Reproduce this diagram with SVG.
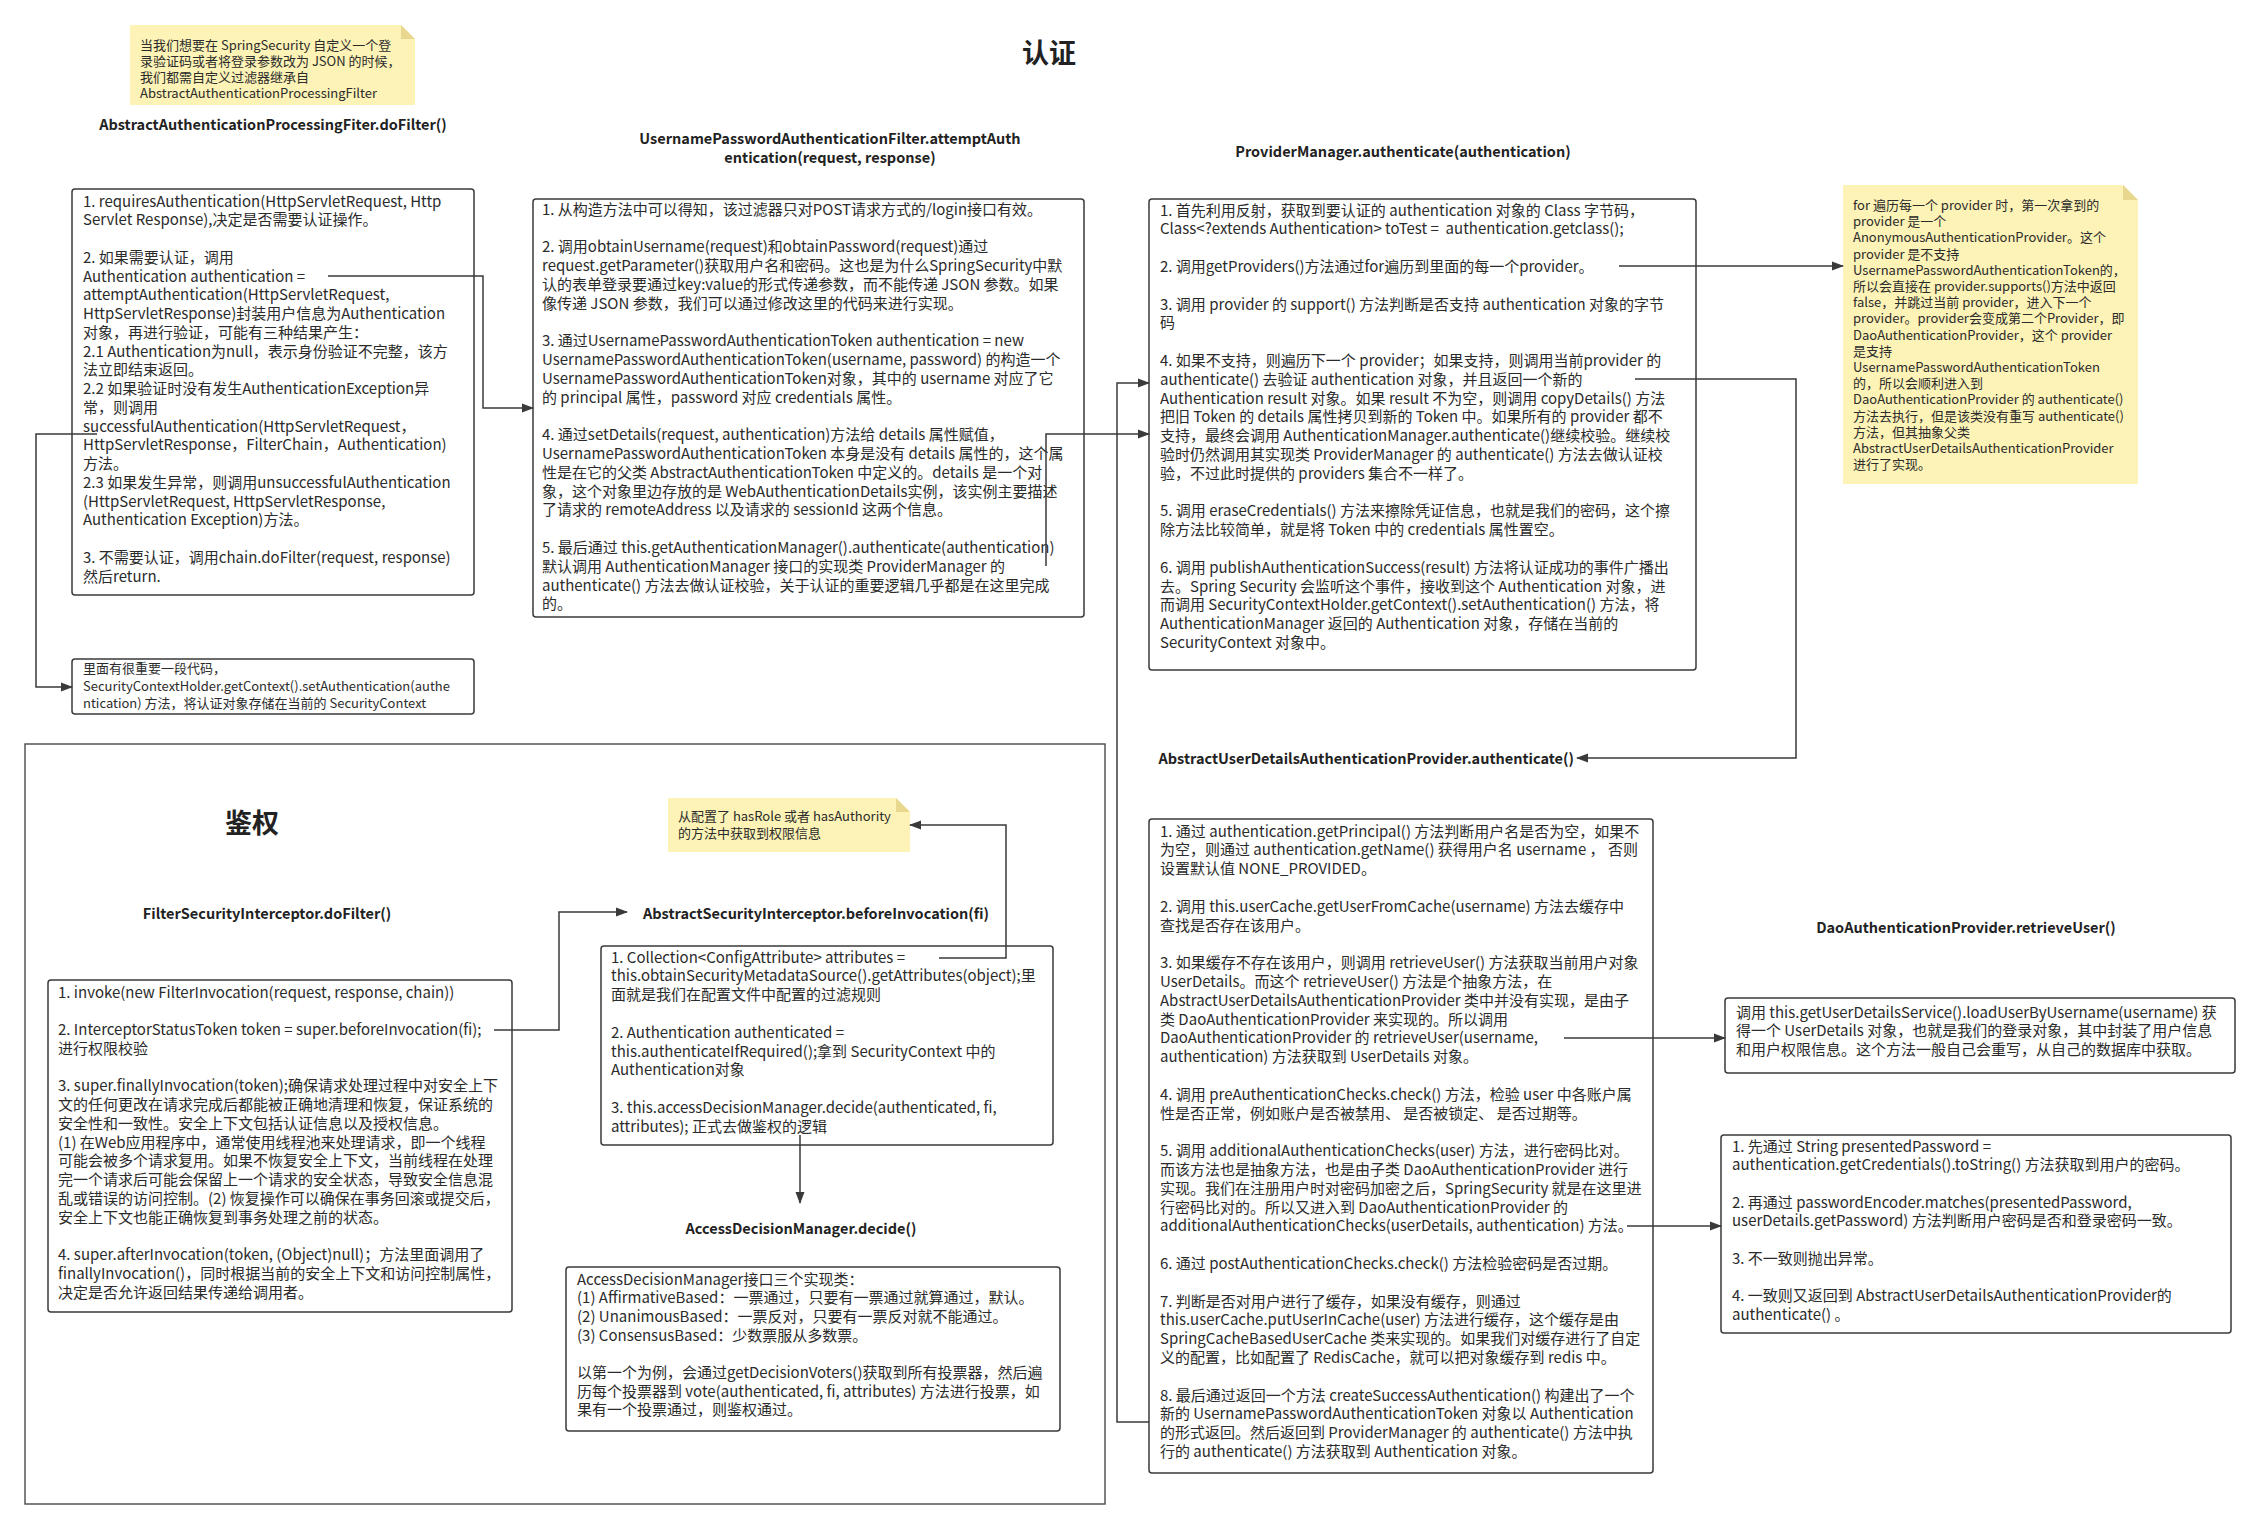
<svg xmlns="http://www.w3.org/2000/svg" width="2260" height="1527" viewBox="0 0 2260 1527">
<style>
.box{fill:#fff;stroke:#3a3a3a;stroke-width:1.5}
.frame{fill:none;stroke:#555;stroke-width:1.5}
.t{font-family:"Noto Sans CJK SC","Noto Sans",sans-serif;font-size:15px;fill:#2b2b2b}
.s{font-size:13px}
.h{font-family:"Noto Sans CJK SC","Noto Sans",sans-serif;font-size:14.5px;font-weight:700;fill:#222}
.big{font-family:"Noto Sans CJK SC","Noto Sans",sans-serif;font-size:27px;font-weight:700;fill:#222}
.note{fill:#fdf3b6}
.fold{fill:#e8d78e}
.conn{fill:none;stroke:#3a3a3a;stroke-width:1.5;marker-end:url(#arr)}
</style>
<defs>
<marker id="arr" viewBox="0 0 12 10" refX="11" refY="5" markerWidth="12" markerHeight="10" markerUnits="userSpaceOnUse" orient="auto">
<path d="M0,0.5 L12,5 L0,9.5 Z" fill="#3a3a3a"/>
</marker>
</defs>
<rect width="2260" height="1527" fill="#fff"/>

<g id="title-auth"><text class="big" x="1049" y="63" text-anchor="middle">认证</text></g>

<g id="note1">
<polygon class="note" points="130,25 401,25 415,39 415,105 130,105"/>
<polygon class="fold" points="401,25 415,39 401,39"/>
<text class="t s">
<tspan x="140" y="50">当我们想要在 SpringSecurity 自定义一个登</tspan>
<tspan x="140" y="66">录验证码或者将登录参数改为 JSON 的时候，</tspan>
<tspan x="140" y="82">我们都需自定义过滤器继承自</tspan>
<tspan x="140" y="98">AbstractAuthenticationProcessingFilter</tspan>
</text>
</g>

<g id="box1">
<text class="h" x="273" y="130" text-anchor="middle">AbstractAuthenticationProcessingFiter.doFilter()</text>
<rect class="box" x="72" y="189" width="402" height="406" rx="3"/>
<text class="t">
<tspan x="83" y="206.5">1. requiresAuthentication(HttpServletRequest, Http</tspan>
<tspan x="83" y="225.3">Servlet Response),决定是否需要认证操作。</tspan>
<tspan x="83" y="262.8">2. 如果需要认证，调用</tspan>
<tspan x="83" y="281.5">Authentication authentication =</tspan>
<tspan x="83" y="300.3">attemptAuthentication(HttpServletRequest,</tspan>
<tspan x="83" y="319">HttpServletResponse)封装用户信息为Authentication</tspan>
<tspan x="83" y="337.8">对象，再进行验证，可能有三种结果产生：</tspan>
<tspan x="83" y="356.5">2.1 Authentication为null，表示身份验证不完整，该方</tspan>
<tspan x="83" y="375.3">法立即结束返回。</tspan>
<tspan x="83" y="394">2.2 如果验证时没有发生AuthenticationException异</tspan>
<tspan x="83" y="412.8">常，则调用</tspan>
<tspan x="83" y="431.5">successfulAuthentication(HttpServletRequest，</tspan>
<tspan x="83" y="450.3">HttpServletResponse，FilterChain，Authentication)</tspan>
<tspan x="83" y="469">方法。</tspan>
<tspan x="83" y="487.8">2.3 如果发生异常，则调用unsuccessfulAuthentication</tspan>
<tspan x="83" y="506.5">(HttpServletRequest, HttpServletResponse,</tspan>
<tspan x="83" y="525.3">Authentication Exception)方法。</tspan>
<tspan x="83" y="562.8">3. 不需要认证，调用chain.doFilter(request, response)</tspan>
<tspan x="83" y="581.5">然后return.</tspan>
</text>
</g>

<g id="box1b">
<rect class="box" x="72" y="659" width="402" height="55" rx="3"/>
<text class="t s">
<tspan x="83" y="673">里面有很重要一段代码，</tspan>
<tspan x="83" y="690.5">SecurityContextHolder.getContext().setAuthentication(authe</tspan>
<tspan x="83" y="708">ntication) 方法，将认证对象存储在当前的 SecurityContext</tspan>
</text>
</g>

<g id="box2">
<text class="h" text-anchor="middle"><tspan x="830" y="143.5">UsernamePasswordAuthenticationFilter.attemptAuth</tspan><tspan x="830" y="162.5">entication(request, response)</tspan></text>
<rect class="box" x="533" y="199" width="551" height="418" rx="3"/>
<text class="t">
<tspan x="542" y="214.5">1. 从构造方法中可以得知，该过滤器只对POST请求方式的/login接口有效。</tspan>
<tspan x="542" y="252.1">2. 调用obtainUsername(request)和obtainPassword(request)通过</tspan>
<tspan x="542" y="270.9">request.getParameter()获取用户名和密码。这也是为什么SpringSecurity中默</tspan>
<tspan x="542" y="289.7">认的表单登录要通过key:value的形式传递参数，而不能传递 JSON 参数。如果</tspan>
<tspan x="542" y="308.5">像传递 JSON 参数，我们可以通过修改这里的代码来进行实现。</tspan>
<tspan x="542" y="346.1">3. 通过UsernamePasswordAuthenticationToken authentication = new</tspan>
<tspan x="542" y="364.9">UsernamePasswordAuthenticationToken(username, password) 的构造一个</tspan>
<tspan x="542" y="383.7">UsernamePasswordAuthenticationToken对象，其中的 username 对应了它</tspan>
<tspan x="542" y="402.5">的 principal 属性，password 对应 credentials 属性。</tspan>
<tspan x="542" y="440.1">4. 通过setDetails(request, authentication)方法给 details 属性赋值，</tspan>
<tspan x="542" y="458.9">UsernamePasswordAuthenticationToken 本身是没有 details 属性的，这个属</tspan>
<tspan x="542" y="477.7">性是在它的父类 AbstractAuthenticationToken 中定义的。details 是一个对</tspan>
<tspan x="542" y="496.5">象，这个对象里边存放的是 WebAuthenticationDetails实例，该实例主要描述</tspan>
<tspan x="542" y="515.3">了请求的 remoteAddress 以及请求的 sessionId 这两个信息。</tspan>
<tspan x="542" y="552.9">5. 最后通过 this.getAuthenticationManager().authenticate(authentication)</tspan>
<tspan x="542" y="571.7">默认调用 AuthenticationManager 接口的实现类 ProviderManager 的</tspan>
<tspan x="542" y="590.5">authenticate() 方法去做认证校验，关于认证的重要逻辑几乎都是在这里完成</tspan>
<tspan x="542" y="609.3">的。</tspan>
</text>
</g>

<g id="box3">
<text class="h" x="1403" y="156.5" text-anchor="middle">ProviderManager.authenticate(authentication)</text>
<rect class="box" x="1149" y="199" width="547" height="471" rx="3"/>
<text class="t">
<tspan x="1160" y="215.5">1. 首先利用反射，获取到要认证的 authentication 对象的 Class 字节码，</tspan>
<tspan x="1160" y="234.3">Class&lt;?extends Authentication&gt; toTest = &#160;authentication.getclass();</tspan>
<tspan x="1160" y="271.9">2. 调用getProviders()方法通过for遍历到里面的每一个provider。</tspan>
<tspan x="1160" y="309.5">3. 调用 provider 的 support() 方法判断是否支持 authentication 对象的字节</tspan>
<tspan x="1160" y="328.3">码</tspan>
<tspan x="1160" y="365.9">4. 如果不支持，则遍历下一个 provider；如果支持，则调用当前provider 的</tspan>
<tspan x="1160" y="384.7">authenticate() 去验证 authentication 对象，并且返回一个新的</tspan>
<tspan x="1160" y="403.5">Authentication result 对象。如果 result 不为空，则调用 copyDetails() 方法</tspan>
<tspan x="1160" y="422.3">把旧 Token 的 details 属性拷贝到新的 Token 中。如果所有的 provider 都不</tspan>
<tspan x="1160" y="441.1">支持，最终会调用 AuthenticationManager.authenticate()继续校验。继续校</tspan>
<tspan x="1160" y="459.9">验时仍然调用其实现类 ProviderManager 的 authenticate() 方法去做认证校</tspan>
<tspan x="1160" y="478.7">验，不过此时提供的 providers 集合不一样了。</tspan>
<tspan x="1160" y="516.3">5. 调用 eraseCredentials() 方法来擦除凭证信息，也就是我们的密码，这个擦</tspan>
<tspan x="1160" y="535.1">除方法比较简单，就是将 Token 中的 credentials 属性置空。</tspan>
<tspan x="1160" y="572.7">6. 调用 publishAuthenticationSuccess(result) 方法将认证成功的事件广播出</tspan>
<tspan x="1160" y="591.5">去。Spring Security 会监听这个事件，接收到这个 Authentication 对象，进</tspan>
<tspan x="1160" y="610.3">而调用 SecurityContextHolder.getContext().setAuthentication() 方法，将</tspan>
<tspan x="1160" y="629.1">AuthenticationManager 返回的 Authentication 对象，存储在当前的</tspan>
<tspan x="1160" y="647.9">SecurityContext 对象中。</tspan>
</text>
</g>

<g id="note2">
<polygon class="note" points="1843,185 2123,185 2138,200 2138,484 1843,484"/>
<polygon class="fold" points="2123,185 2138,200 2123,200"/>
<text class="t s">
<tspan x="1853" y="210">for 遍历每一个 provider 时，第一次拿到的</tspan>
<tspan x="1853" y="226.2">provider 是一个</tspan>
<tspan x="1853" y="242.4">AnonymousAuthenticationProvider。这个</tspan>
<tspan x="1853" y="258.6">provider 是不支持</tspan>
<tspan x="1853" y="274.8">UsernamePasswordAuthenticationToken的，</tspan>
<tspan x="1853" y="291">所以会直接在 provider.supports()方法中返回</tspan>
<tspan x="1853" y="307.2">false，并跳过当前 provider，进入下一个</tspan>
<tspan x="1853" y="323.4">provider。provider会变成第二个Provider，即</tspan>
<tspan x="1853" y="339.6">DaoAuthenticationProvider，这个 provider</tspan>
<tspan x="1853" y="355.8">是支持</tspan>
<tspan x="1853" y="372">UsernamePasswordAuthenticationToken</tspan>
<tspan x="1853" y="388.2">的，所以会顺利进入到</tspan>
<tspan x="1853" y="404.4">DaoAuthenticationProvider 的 authenticate()</tspan>
<tspan x="1853" y="420.6">方法去执行，但是该类没有重写 authenticate()</tspan>
<tspan x="1853" y="436.8">方法，但其抽象父类</tspan>
<tspan x="1853" y="453">AbstractUserDetailsAuthenticationProvider</tspan>
<tspan x="1853" y="469.2">进行了实现。</tspan>
</text>
</g>

<g id="box4">
<text class="h" x="1574" y="763.5" text-anchor="end">AbstractUserDetailsAuthenticationProvider.authenticate()</text>
<rect class="box" x="1149" y="819" width="504" height="654" rx="3"/>
<text class="t">
<tspan x="1160" y="836.5">1. 通过 authentication.getPrincipal() 方法判断用户名是否为空，如果不</tspan>
<tspan x="1160" y="855.3">为空，则通过 authentication.getName() 获得用户名 username ， 否则</tspan>
<tspan x="1160" y="874.1">设置默认值 NONE_PROVIDED。</tspan>
<tspan x="1160" y="911.7">2. 调用 this.userCache.getUserFromCache(username) 方法去缓存中</tspan>
<tspan x="1160" y="930.5">查找是否存在该用户。</tspan>
<tspan x="1160" y="968.1">3. 如果缓存不存在该用户，则调用 retrieveUser() 方法获取当前用户对象</tspan>
<tspan x="1160" y="986.9">UserDetails。而这个 retrieveUser() 方法是个抽象方法，在</tspan>
<tspan x="1160" y="1005.7">AbstractUserDetailsAuthenticationProvider 类中并没有实现，是由子</tspan>
<tspan x="1160" y="1024.5">类 DaoAuthenticationProvider 来实现的。所以调用</tspan>
<tspan x="1160" y="1043.3">DaoAuthenticationProvider 的 retrieveUser(username,</tspan>
<tspan x="1160" y="1062.1">authentication) 方法获取到 UserDetails 对象。</tspan>
<tspan x="1160" y="1099.7">4. 调用 preAuthenticationChecks.check() 方法，检验 user 中各账户属</tspan>
<tspan x="1160" y="1118.5">性是否正常，例如账户是否被禁用、 是否被锁定、 是否过期等。</tspan>
<tspan x="1160" y="1156.1">5. 调用 additionalAuthenticationChecks(user) 方法，进行密码比对。</tspan>
<tspan x="1160" y="1174.9">而该方法也是抽象方法，也是由子类 DaoAuthenticationProvider 进行</tspan>
<tspan x="1160" y="1193.7">实现。我们在注册用户时对密码加密之后，SpringSecurity 就是在这里进</tspan>
<tspan x="1160" y="1212.5">行密码比对的。所以又进入到 DaoAuthenticationProvider 的</tspan>
<tspan x="1160" y="1231.3">additionalAuthenticationChecks(userDetails, authentication) 方法。</tspan>
<tspan x="1160" y="1268.9">6. 通过 postAuthenticationChecks.check() 方法检验密码是否过期。</tspan>
<tspan x="1160" y="1306.5">7. 判断是否对用户进行了缓存，如果没有缓存，则通过</tspan>
<tspan x="1160" y="1325.3">this.userCache.putUserInCache(user) 方法进行缓存，这个缓存是由</tspan>
<tspan x="1160" y="1344.1">SpringCacheBasedUserCache 类来实现的。如果我们对缓存进行了自定</tspan>
<tspan x="1160" y="1362.9">义的配置，比如配置了 RedisCache，就可以把对象缓存到 redis 中。</tspan>
<tspan x="1160" y="1400.5">8. 最后通过返回一个方法 createSuccessAuthentication() 构建出了一个</tspan>
<tspan x="1160" y="1419.3">新的 UsernamePasswordAuthenticationToken 对象以 Authentication</tspan>
<tspan x="1160" y="1438.1">的形式返回。然后返回到 ProviderManager 的 authenticate() 方法中执</tspan>
<tspan x="1160" y="1456.9">行的 authenticate() 方法获取到 Authentication 对象。</tspan>
</text>
</g>

<g id="box5">
<text class="h" x="1966" y="932.5" text-anchor="middle">DaoAuthenticationProvider.retrieveUser()</text>
<rect class="box" x="1725" y="998" width="510" height="75" rx="3"/>
<text class="t">
<tspan x="1736" y="1017.5">调用 this.getUserDetailsService().loadUserByUsername(username) 获</tspan>
<tspan x="1736" y="1036.3">得一个 UserDetails 对象，也就是我们的登录对象，其中封装了用户信息</tspan>
<tspan x="1736" y="1055.1">和用户权限信息。这个方法一般自己会重写，从自己的数据库中获取。</tspan>
</text>
</g>

<g id="box6">
<rect class="box" x="1721" y="1135" width="510" height="198" rx="3"/>
<text class="t">
<tspan x="1732" y="1151.5">1. 先通过 String presentedPassword =</tspan>
<tspan x="1732" y="1170.2">authentication.getCredentials().toString() 方法获取到用户的密码。</tspan>
<tspan x="1732" y="1207.6">2. 再通过 passwordEncoder.matches(presentedPassword,</tspan>
<tspan x="1732" y="1226.3">userDetails.getPassword) 方法判断用户密码是否和登录密码一致。</tspan>
<tspan x="1732" y="1263.7">3. 不一致则抛出异常。</tspan>
<tspan x="1732" y="1301.1">4. 一致则又返回到 AbstractUserDetailsAuthenticationProvider的</tspan>
<tspan x="1732" y="1319.8">authenticate() 。</tspan>
</text>
</g>

<g id="frame-authz">
<rect class="frame" x="25" y="744" width="1080" height="760"/>
<text class="big" x="252" y="833" text-anchor="middle">鉴权</text>
</g>

<g id="box7">
<text class="h" x="267" y="918.5" text-anchor="middle">FilterSecurityInterceptor.doFilter()</text>
<rect class="box" x="48" y="980" width="464" height="332" rx="3"/>
<text class="t">
<tspan x="58" y="997.5">1. invoke(new FilterInvocation(request, response, chain))</tspan>
<tspan x="58" y="1035">2. InterceptorStatusToken token = super.beforeInvocation(fi);</tspan>
<tspan x="58" y="1053.8">进行权限校验</tspan>
<tspan x="58" y="1091.3">3. super.finallyInvocation(token);确保请求处理过程中对安全上下</tspan>
<tspan x="58" y="1110">文的任何更改在请求完成后都能被正确地清理和恢复，保证系统的</tspan>
<tspan x="58" y="1128.8">安全性和一致性。安全上下文包括认证信息以及授权信息。</tspan>
<tspan x="58" y="1147.5">(1) 在Web应用程序中，通常使用线程池来处理请求，即一个线程</tspan>
<tspan x="58" y="1166.3">可能会被多个请求复用。如果不恢复安全上下文，当前线程在处理</tspan>
<tspan x="58" y="1185">完一个请求后可能会保留上一个请求的安全状态，导致安全信息混</tspan>
<tspan x="58" y="1203.8">乱或错误的访问控制。(2) 恢复操作可以确保在事务回滚或提交后，</tspan>
<tspan x="58" y="1222.5">安全上下文也能正确恢复到事务处理之前的状态。</tspan>
<tspan x="58" y="1260">4. super.afterInvocation(token, (Object)null)；方法里面调用了</tspan>
<tspan x="58" y="1278.8">finallyInvocation()，同时根据当前的安全上下文和访问控制属性，</tspan>
<tspan x="58" y="1297.5">决定是否允许返回结果传递给调用者。</tspan>
</text>
</g>

<g id="note3">
<polygon class="note" points="668,798 896,798 910,812 910,852 668,852"/>
<polygon class="fold" points="896,798 910,812 896,812"/>
<text class="t s">
<tspan x="678" y="821">从配置了 hasRole 或者 hasAuthority</tspan>
<tspan x="678" y="838">的方法中获取到权限信息</tspan>
</text>
</g>

<g id="box8">
<text class="h" x="643" y="918.5">AbstractSecurityInterceptor.beforeInvocation(fi)</text>
<rect class="box" x="601" y="946" width="452" height="199" rx="3"/>
<text class="t">
<tspan x="611" y="962.5">1. Collection&lt;ConfigAttribute&gt; attributes =</tspan>
<tspan x="611" y="981.3">this.obtainSecurityMetadataSource().getAttributes(object);里</tspan>
<tspan x="611" y="1000.1">面就是我们在配置文件中配置的过滤规则</tspan>
<tspan x="611" y="1037.7">2. Authentication authenticated =</tspan>
<tspan x="611" y="1056.5">this.authenticateIfRequired();拿到 SecurityContext 中的</tspan>
<tspan x="611" y="1075.3">Authentication对象</tspan>
<tspan x="611" y="1112.9">3. this.accessDecisionManager.decide(authenticated, fi,</tspan>
<tspan x="611" y="1131.7">attributes); 正式去做鉴权的逻辑</tspan>
</text>
</g>

<g id="box9">
<text class="h" x="801" y="1233.5" text-anchor="middle">AccessDecisionManager.decide()</text>
<rect class="box" x="566" y="1267" width="494" height="164" rx="3"/>
<text class="t">
<tspan x="577" y="1284.5">AccessDecisionManager接口三个实现类：</tspan>
<tspan x="577" y="1303.2">(1) AffirmativeBased：一票通过，只要有一票通过就算通过，默认。</tspan>
<tspan x="577" y="1321.9">(2) UnanimousBased：一票反对，只要有一票反对就不能通过。</tspan>
<tspan x="577" y="1340.6">(3) ConsensusBased：少数票服从多数票。</tspan>
<tspan x="577" y="1378">以第一个为例，会通过getDecisionVoters()获取到所有投票器，然后遍</tspan>
<tspan x="577" y="1396.7">历每个投票器到 vote(authenticated, fi, attributes) 方法进行投票，如</tspan>
<tspan x="577" y="1415.4">果有一个投票通过，则鉴权通过。</tspan>
</text>
</g>

<g id="connectors">
<path class="conn" d="M328,276 H483 V408 H533"/>
<path class="conn" d="M97,434 H36 V687 H72"/>
<path class="conn" d="M1046,566 V434 H1149"/>
<path class="conn" d="M1619,266 H1843"/>
<path class="conn" d="M1635,379 H1796 V758 H1577"/>
<path class="conn" d="M1149,1422 H1117 V383 H1149"/>
<path class="conn" d="M1564,1038 H1725"/>
<path class="conn" d="M1627,1226 H1721"/>
<path class="conn" d="M494,1030 H559 V912 H627"/>
<path class="conn" d="M939,958 H1006 V825 H910"/>
<path class="conn" d="M800,1135 V1203"/>
</g>
</svg>
